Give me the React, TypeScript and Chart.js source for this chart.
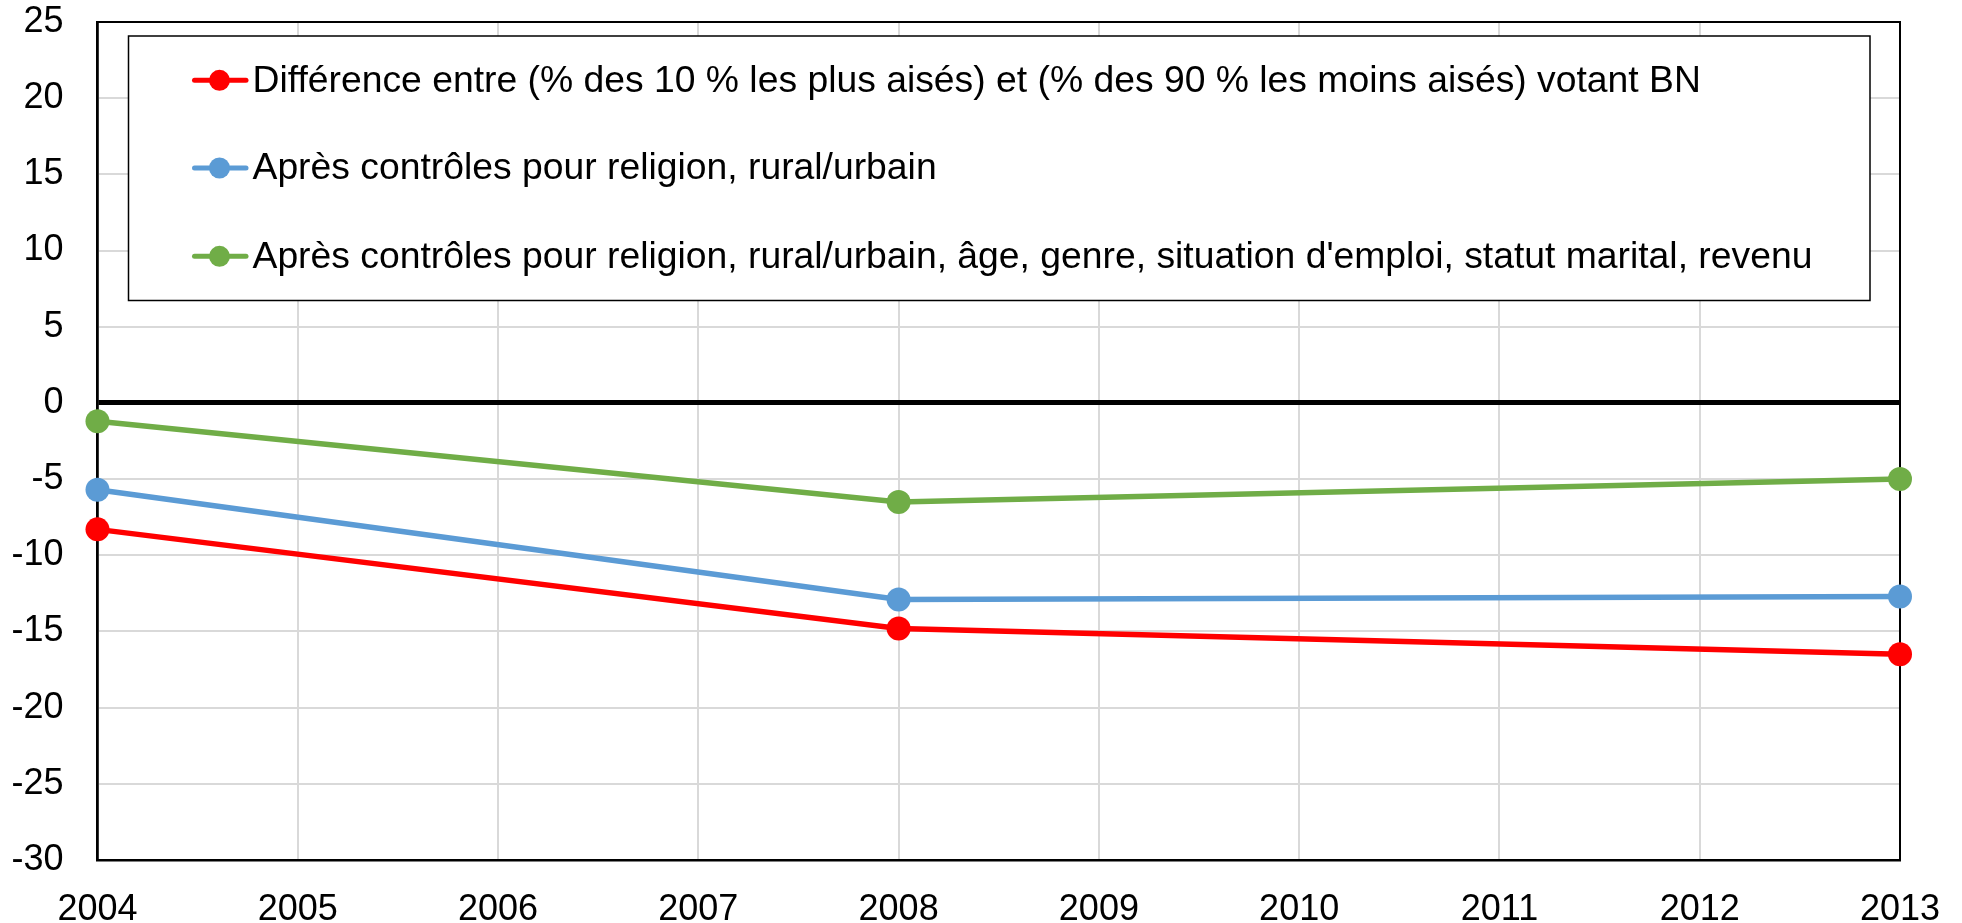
import React, { useEffect, useRef } from "react";
import { Chart, registerables } from "chart.js";

Chart.register(...registerables);

const years = [2004, 2008, 2013];
const seriesLabels = [
  "Différence entre (% des 10 % les plus aisés) et (% des 90 % les moins aisés) votant BN",
  "Après contrôles pour religion, rural/urbain",
  "Après contrôles pour religion, rural/urbain, âge, genre, situation d'emploi, statut marital, revenu",
];
const redValues = [-8.3, -14.8, -16.5];
const blueValues = [-5.7, -12.9, -12.7];
const greenValues = [-1.2, -6.5, -5.0];
const colors = ["#FF0000", "#5B9BD5", "#70AD47"];
const yMin = -30;
const yMax = 25;
const yStep = 5;
const xMin = 2004;
const xMax = 2013;

const FONT = "'Liberation Sans', Arial, sans-serif";

export default function App() {
  const ref = useRef<HTMLCanvasElement | null>(null);

  useEffect(() => {
    if (!ref.current) return;
    const allValues = [redValues, blueValues, greenValues];

    const legendPlugin = {
      id: "boxLegend",
      beforeDatasetsDraw(chart: any) {
        const ctx = chart.ctx;
        const a = chart.chartArea;
        ctx.save();
        // plot border
        ctx.strokeStyle = "#000";
        ctx.lineWidth = 2;
        ctx.strokeRect(a.left, a.top, a.right - a.left, a.bottom - a.top);
        // legend box
        const bx = 128.5, by = 36, bw = 1870 - 128.5, bh = 300.5 - 36;
        ctx.fillStyle = "#fff";
        ctx.fillRect(bx, by, bw, bh);
        ctx.strokeStyle = "#000";
        ctx.lineWidth = 1.5;
        ctx.strokeRect(bx, by, bw, bh);
        const rows = [80.3, 168, 256.3];
        ctx.font = `37.3px ${FONT}`;
        ctx.textBaseline = "middle";
        ctx.textAlign = "left";
        seriesLabels.forEach((lab, i) => {
          const y = rows[i];
          ctx.strokeStyle = colors[i];
          ctx.lineWidth = 5;
          ctx.lineCap = "round";
          ctx.beginPath();
          ctx.moveTo(194.5, y);
          ctx.lineTo(246, y);
          ctx.stroke();
          ctx.fillStyle = colors[i];
          ctx.beginPath();
          ctx.arc(219.5, y, 10.5, 0, Math.PI * 2);
          ctx.fill();
          ctx.fillStyle = "#000";
          ctx.fillText(lab, 252.5, y + 1);
        });
        ctx.restore();
      },
    };

    const chart = new Chart(ref.current, {
      type: "line",
      data: {
        datasets: allValues.map((vals, i) => ({
          label: seriesLabels[i],
          data: years.map((yr, j) => ({ x: yr, y: vals[j] })),
          borderColor: colors[i],
          backgroundColor: colors[i],
          borderWidth: 5.5,
          pointRadius: 12,
          pointHoverRadius: 12,
          pointBorderWidth: 0,
          tension: 0,
          clip: false as any,
        })),
      },
      options: {
        animation: false,
        responsive: false,
        maintainAspectRatio: false,
        layout: { padding: { left: 0, top: 22, right: 62, bottom: 0 } },
        plugins: {
          legend: { display: false },
          tooltip: { enabled: false },
        },
        scales: {
          x: {
            type: "linear",
            min: xMin,
            max: xMax,
            afterFit(scale: any) {
              scale.height = 63;
              scale.paddingLeft = 0;
              scale.paddingRight = 0;
            },
            ticks: {
              stepSize: 1,
              color: "#000",
              font: { family: FONT, size: 36 },
              padding: 28,
              maxRotation: 0,
              callback: (v: any) => String(v),
            },
            grid: {
              color: "#d9d9d9",
              lineWidth: 2,
              drawTicks: false,
            },
            border: { display: true, color: "#000", width: 2.5 },
          },
          y: {
            min: yMin,
            max: yMax,
            afterFit(scale: any) {
              scale.width = 97.5;
              scale.paddingTop = 0;
              scale.paddingBottom = 0;
            },
            ticks: {
              stepSize: yStep,
              color: "#000",
              font: { family: FONT, size: 36 },
              padding: 34,
            },
            grid: {
              color: (c: any) => (c.tick && c.tick.value === 0 ? "#000" : "#d9d9d9"),
              lineWidth: (c: any) => (c.tick && c.tick.value === 0 ? 5 : 2),
              drawTicks: false,
            },
            border: { display: true, color: "#000", width: 2.5 },
          },
        },
      },
      plugins: [legendPlugin],
    } as any);

    return () => chart.destroy();
  }, []);

  return (
    <div style={{ position: "fixed", left: 0, top: 0, width: 1962, height: 923, background: "#fff" }}>
      <canvas ref={ref} width={1962} height={923} style={{ width: 1962, height: 923 }} />
    </div>
  );
}
